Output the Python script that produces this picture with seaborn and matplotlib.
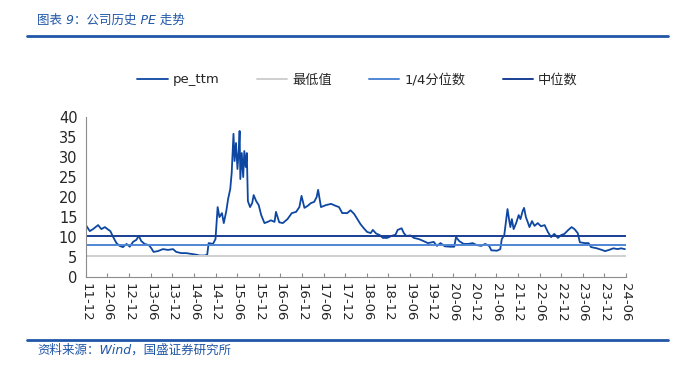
import numpy as np
import pandas as pd
import matplotlib
matplotlib.use("Agg")
import matplotlib.pyplot as plt
from matplotlib.lines import Line2D
import seaborn as sns

# months elapsed since 2011-12, and pe_ttm
months = [0, 1.1, 2.0, 3.4, 4.3, 5.3, 6.0, 6.8, 7.6, 8.5, 9.4, 10.3, 11.3, 12.2, 13.1,
          14.0, 14.7, 15.4, 16.3, 17.5, 18.2, 18.8, 20.0, 21.4, 22.8, 24.2, 25.1, 26.5,
          27.9, 29.3, 30.7, 31.6, 33.0, 33.7, 34.1, 35.3, 36.0, 36.6, 37.1, 37.8, 38.3,
          39.0, 39.5, 40.1, 40.5, 41.0, 41.3, 41.7, 42.1, 42.5, 42.7, 42.9, 43.3, 43.7,
          44.0, 44.4, 44.7, 45.0, 45.6, 46.2, 46.6, 47.3, 48.0, 48.7, 49.6, 50.5, 51.4,
          52.4, 52.8, 53.7, 54.7, 56.0, 57.2, 58.4, 59.3, 59.9, 60.7, 61.6, 62.5, 63.4,
          64.1, 64.5, 65.3, 66.7, 68.1, 69.4, 70.3, 71.2, 72.6, 73.5, 74.5, 75.4, 76.3,
          77.2, 78.1, 79.1, 79.7, 80.6, 81.6, 82.5, 83.7, 84.9, 86.0, 86.6, 87.7, 88.3,
          89.0, 90.2, 91.1, 92.5, 93.8, 95.0, 96.6, 97.5, 98.5, 99.7, 101.2, 102.3, 102.8,
          103.7, 104.9, 106.3, 107.4, 108.6, 109.8, 110.9, 112.0, 112.6, 114.2, 115.1,
          115.5, 116.2, 116.7, 117.1, 117.6, 117.9, 118.3, 118.8, 119.5, 120.2, 120.7,
          121.3, 121.7, 122.2, 122.7, 123.2, 123.9, 124.6, 125.5, 126.4, 127.4, 128.3,
          129.2, 130.1, 131.1, 132.0, 132.9, 134.0, 134.9, 135.7, 136.6, 137.2, 138.6,
          139.6, 140.3, 141.9, 143.3, 144.2, 145.3, 146.5, 147.7, 148.6, 149.7]
pe_ttm = [13.0, 11.5, 12.0, 13.0, 12.0, 12.5, 12.0, 11.5, 10.0, 8.5, 7.8, 7.5, 8.3, 7.6, 8.8,
          9.3, 10.3, 9.0, 8.3, 8.0, 7.2, 6.3, 6.5, 7.0, 6.8, 7.0, 6.3, 6.0,
          6.0, 5.8, 5.6, 5.4, 5.4, 5.6, 8.5, 8.3, 9.5, 17.5, 15.0, 16.0, 13.5,
          16.5, 19.5, 22.0, 26.0, 35.8, 29.0, 33.5, 27.0, 32.0, 36.5, 24.5, 31.0, 25.0,
          31.5, 27.5, 31.0, 19.0, 17.5, 18.5, 20.5, 19.0, 18.0, 15.5, 13.5, 13.8, 14.2,
          13.8, 16.3, 13.7, 13.5, 14.5, 16.0, 16.3, 17.5, 20.3, 17.3, 17.8, 18.5, 18.8,
          20.0, 21.8, 17.5, 18.0, 18.3, 17.8, 17.5, 16.0, 16.0, 16.7, 15.8, 14.5, 13.2,
          12.2, 11.3, 11.0, 11.8, 10.9, 10.5, 9.8, 9.8, 10.3, 10.6, 11.8, 12.2, 11.0,
          10.3, 10.4, 9.8, 9.5, 9.0, 8.5, 8.8, 7.8, 8.5, 7.7, 7.6, 7.6, 10.0,
          9.0, 8.3, 8.3, 8.5, 8.0, 7.8, 8.3, 7.8, 6.7, 6.6, 7.0,
          9.5, 10.5, 14.0, 17.0, 14.0, 12.5, 14.5, 12.0, 13.5, 15.5, 14.5,
          16.5, 17.3, 15.0, 13.8, 12.5, 14.0, 12.8, 13.5, 12.7, 13.0, 11.3,
          10.0, 10.8, 9.8, 10.5, 10.8, 11.8, 12.5, 12.0, 11.0, 8.7, 8.5,
          8.5, 7.5, 7.2, 6.8, 6.5, 6.8, 7.2, 7.0, 7.2, 7.0]

pe_min = 5.33
pe_q1 = 8.08
pe_median = 10.33

START = pd.Timestamp("2011-12-01")
END = pd.Timestamp("2024-06-01")

BLUE_LINE = "#0D47A1"
MEDIAN_C = "#1A3F93"
Q1_C = "#4F86D4"
MIN_C = "#CFCFCF"
TITLE_C = "#1F56A8"

sns.set_style("white")
plt.rcParams["font.family"] = ["DejaVu Sans", "Noto Sans CJK SC"]

df = pd.DataFrame({
    "date": START + pd.to_timedelta(np.array(months) * 30.44, unit="D"),
    "pe_ttm": pe_ttm,
})

fig = plt.figure(figsize=(6.76, 3.72), dpi=100)
ax = fig.add_axes([0.127, 0.255, 0.799, 0.4305])

sns.lineplot(data=df, x="date", y="pe_ttm", ax=ax, color=BLUE_LINE, lw=1.3,
             label="pe_ttm")
ax.axhline(pe_min, color=MIN_C, lw=1.4, label="最低值")
ax.axhline(pe_q1, color=Q1_C, lw=1.4, label="1/4分位数")
ax.axhline(pe_median, color=MEDIAN_C, lw=1.4, label="中位数")

ax.set_xlim(START, END)
ax.set_ylim(0, 40)
ax.set_yticks(range(0, 41, 5))
ticks = pd.date_range(START, END, freq="6MS")
ax.set_xticks(ticks)
ax.set_xticklabels([t.strftime("%y-%m") for t in ticks], rotation=-90)
ax.tick_params(axis="x", direction="in", length=3, width=0.8, color="#8c8c8c",
               labelsize=9.5, pad=4, bottom=True)
ax.tick_params(axis="y", length=0, labelsize=10.5, pad=6)
ax.set_xlabel("")
ax.set_ylabel("")
for s in ["top", "right"]:
    ax.spines[s].set_visible(False)
for s in ["left", "bottom"]:
    ax.spines[s].set_color("#8c8c8c")
    ax.spines[s].set_linewidth(0.8)

ax.legend(loc="center", bbox_to_anchor=(0.529, 0.785), bbox_transform=fig.transFigure,
          ncol=4, frameon=False, fontsize=9.5, handlelength=2.3, handletextpad=0.4,
          columnspacing=2.8)

# header and footer
fig.text(0.055, 0.945, "图表 9：公司历史 PE 走势", color=TITLE_C, fontsize=9,
         style="italic", va="center", ha="left")
fig.add_artist(Line2D([0.04, 0.988], [0.903, 0.903], color=TITLE_C, lw=2))
fig.add_artist(Line2D([0.04, 0.988], [0.086, 0.086], color=TITLE_C, lw=2))
fig.text(0.055, 0.058, "资料来源：Wind，国盛证券研究所", color=TITLE_C, fontsize=9,
         style="italic", va="center", ha="left")

fig.savefig("out.png", dpi=100)
